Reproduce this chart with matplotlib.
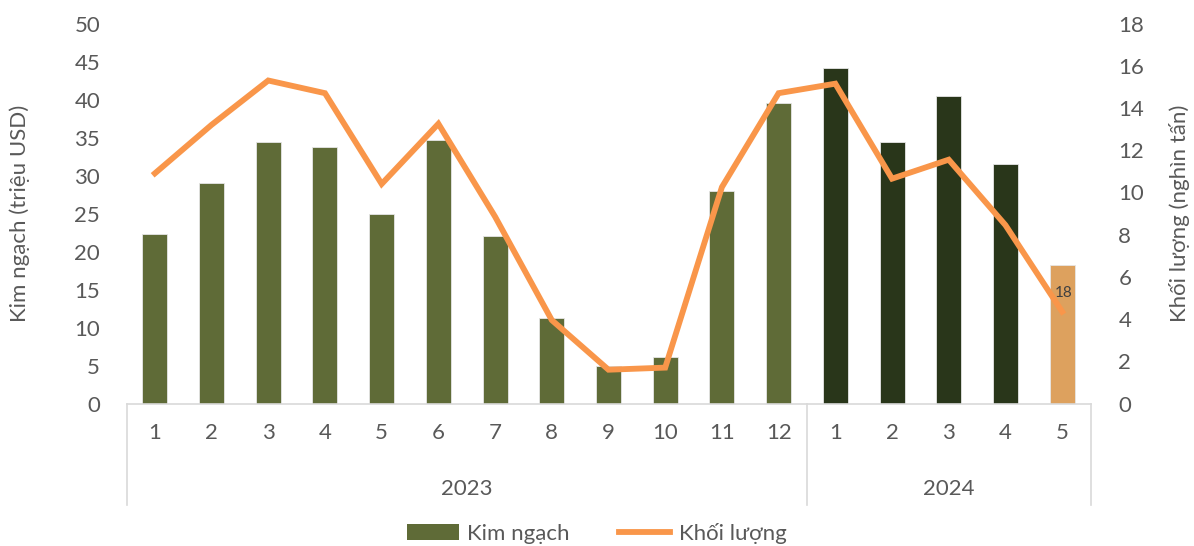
import matplotlib
matplotlib.use("Agg")
from matplotlib import pyplot as plt
from matplotlib.patches import Patch
from matplotlib.lines import Line2D
import matplotlib.transforms as mtransforms
import numpy as np

plt.rcParams['font.family'] = ['Lato', 'DejaVu Sans']

# data
months = ['1', '2', '3', '4', '5', '6', '7', '8', '9', '10', '11', '12',
          '1', '2', '3', '4', '5']
years = ['2023', '2024']
year_len = [12, 5]
kim_ngach = [22.3, 29.0, 34.4, 33.8, 25.0, 34.7, 22.0, 11.2, 4.9, 6.1, 28.0, 39.6,
             44.2, 34.4, 40.5, 31.5, 18.2]
khoi_luong = [10.9, 13.2, 15.3, 14.7, 10.4, 13.25, 8.85, 3.95, 1.6, 1.7, 10.25, 14.7,
              15.15, 10.65, 11.55, 8.45, 4.35]
last_label = '18'

c_2023 = '#5F6B37'
c_2024 = '#29361A'
c_last = '#DDA15E'
c_line = '#F9964A'
grey = '#595959'
fs = 16

x = np.arange(len(months))
colors = [c_2023] * year_len[0] + [c_2024] * (year_len[1] - 1) + [c_last]

fig = plt.figure(figsize=(11.94, 5.46), dpi=100)
ax = fig.add_axes([126.5 / 1194, 1 - 403.5 / 546, (1090.5 - 126.5) / 1194, 380 / 546])
ax2 = ax.twinx()

ax.bar(x, kim_ngach, width=0.44, color=colors, edgecolor='#E6E6E6', linewidth=0.6, zorder=2)
ax2.plot(x, khoi_luong, color=c_line, linewidth=4.2, solid_joinstyle='miter', zorder=3)

ax.text(x[-1] + 0.03, kim_ngach[-1] - 3.6, last_label, ha='center', va='center',
        fontsize=11, color='#404040', zorder=5)

ax.set_xlim(-0.5, len(months) - 0.5)
ax.set_ylim(0, 50)
ax.set_yticks(np.arange(0, 51, 5))
ax2.set_ylim(0, 18)
ax2.set_yticks(np.arange(0, 19, 2))

for a in (ax, ax2):
    for s in ['top', 'left', 'right', 'bottom']:
        a.spines[s].set_visible(False)
ax.tick_params(axis='y', length=0, labelsize=fs, labelcolor=grey, pad=19)
ax2.tick_params(axis='y', length=0, labelsize=fs, labelcolor=grey, pad=20)

ax.set_xticks(x)
ax.set_xticklabels(months)
ax.tick_params(axis='x', length=0, labelsize=fs, labelcolor=grey, pad=14)
ax.axhline(0, color='#D9D9D9', linewidth=1.2, zorder=4, clip_on=False)

ax.set_ylabel('Kim ngạch (triệu USD)', fontsize=fs, color=grey, va='center')
ax2.set_ylabel('Khối lượng (nghìn tấn)', fontsize=fs, color=grey, va='center')
ax.yaxis.set_label_coords((20 - 126.5) / 964, 0.5)
ax2.yaxis.set_label_coords((1180 - 126.5) / 964, 0.5)

# grouped year axis
trans = mtransforms.blended_transform_factory(ax.transData, ax.transAxes)
start = -0.5
bounds = [start]
for n in year_len:
    bounds.append(bounds[-1] + n)
for b in bounds:
    ax.plot([b, b], [0, -0.268], color='#D9D9D9', linewidth=1.2, transform=trans, clip_on=False)
for i, yr in enumerate(years):
    ax.text((bounds[i] + bounds[i + 1]) / 2, -0.225, yr, transform=trans, ha='center',
            va='center', fontsize=fs, color=grey)

handles = [Patch(facecolor=c_2023, label='Kim ngạch'),
           Line2D([0], [0], color=c_line, linewidth=4.2, label='Khối lượng')]
fig.legend(handles=handles, loc='center', bbox_to_anchor=(0.5, 1 - 533 / 546), ncol=2,
           frameon=False, fontsize=fs, labelcolor=grey, handlelength=2.3,
           handleheight=0.7, columnspacing=2.2, handletextpad=0.4)

fig.savefig('out.png', dpi=100)
